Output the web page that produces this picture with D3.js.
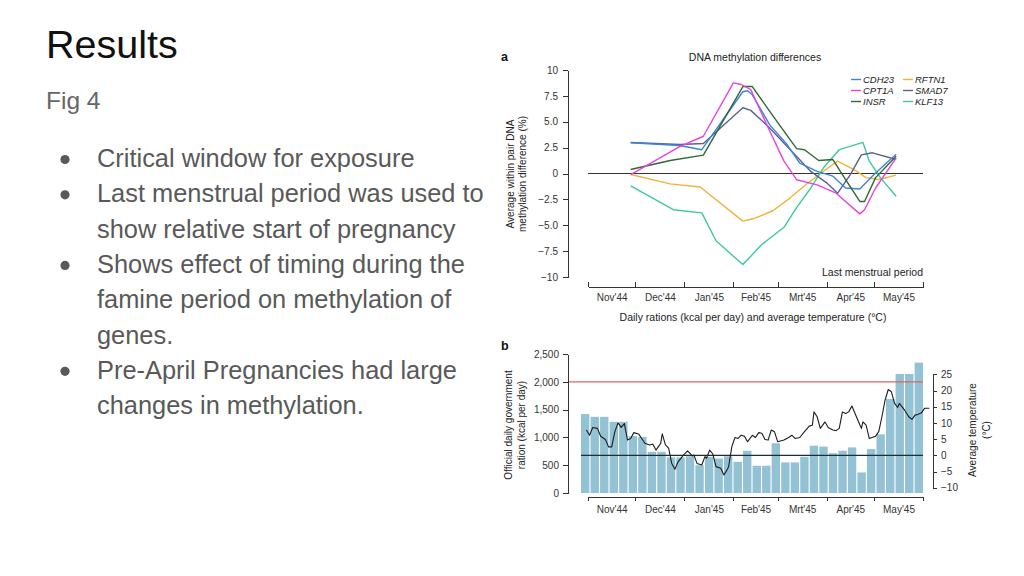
<!DOCTYPE html>
<html><head><meta charset="utf-8">
<script src="https://cdn.jsdelivr.net/npm/d3@7"></script>
<style>
html,body{margin:0;padding:0;background:#fff;}
svg{display:block;font-family:"Liberation Sans",Arial,Helvetica,sans-serif;}
.ax path,.ax line{stroke:#333;stroke-width:1;shape-rendering:crispEdges;}
.ax text{fill:#333;font-size:10px;font-family:"Liberation Sans",Arial,Helvetica,sans-serif;}
</style></head><body>
<svg id="chart" width="1024" height="576"></svg>
<script>
// ---------------- data ----------------
const slideTitle = "Results";
const slideSubtitle = "Fig 4";
const bulletLines = [
  ["Critical window for exposure"],
  ["Last menstrual period was used to", "show relative start of pregnancy"],
  ["Shows effect of timing during the", "famine period on methylation of", "genes."],
  ["Pre-April Pregnancies had large", "changes in methylation."]
];
const monthLabels = ["Nov'44","Dec'44","Jan'45","Feb'45","Mrt'45","Apr'45","May'45"];
const geneNames = ["CDH23","CPT1A","INSR","RFTN1","SMAD7","KLF13"];
const geneColors = ["#3d85d8","#e545de","#2d6a35","#f2b23a","#5b5f96","#3fc99b"];
// [days since 1 Nov 1944, methylation difference %]
const cdh23 = [[27,2.97],[58,2.7],[72,2.3],[98,7.9],[101,8.0],[104,7.6],[115,4.7],[126,2.8],[134,1.0],[145,0.2],[155,-0.26],[163,-1.4],[172,-1.5],[181,-0.1],[195,1.85]];
const cpt1a = [[27,-0.1],[58,2.6],[73,3.6],[92,8.76],[97,8.6],[103,8.1],[115,4.1],[124,1.2],[132,-0.6],[145,-1.1],[157,-1.9],[172,-3.9],[175,-3.5],[182,-1.4],[195,1.5]];
const insr  = [[27,0.39],[52,1.26],[73,1.77],[98,8.4],[104,8.4],[115,6.0],[124,4.1],[132,2.4],[137,2.3],[146,1.26],[155,1.35],[161,-0.1],[172,-2.7],[175,-2.7],[182,-0.4],[195,1.67]];
const rftn1 = [[27,-0.1],[52,-1.0],[71,-1.3],[98,-4.6],[105,-4.35],[117,-3.6],[128,-2.35],[138,-1.06],[149,0.22],[158,1.2],[168,0.4],[176,-0.4],[184,-0.58],[195,-0.16]];
const smad7 = [[27,3.0],[58,2.8],[73,2.9],[98,6.35],[103,6.1],[115,4.4],[128,2.3],[141,0.2],[151,-0.9],[158,-1.9],[166,-0.1],[173,1.8],[180,2.0],[195,1.35]];
const klf13 = [[27,-1.2],[54,-3.5],[72,-3.8],[81,-6.5],[98,-8.8],[103,-8.0],[109,-7.0],[113,-6.5],[124,-5.2],[132,-3.3],[141,-1.4],[149,0.55],[159,2.3],[174,3.0],[178,1.2],[185,-0.4],[195,-2.2]];
const methylTicks = [-10,-7.5,-5,-2.5,0,2.5,5,7.5,10];
// panel b: official ration per distribution period (kcal/day)
const rationKcal = [1420,1370,1370,1280,1280,1025,1010,740,740,640,640,660,500,650,620,660,560,760,490,490,895,550,550,650,850,835,715,760,820,370,790,1055,1690,2140,2140,2345];
const kcalTicks = [0,500,1000,1500,2000,2500];
const referenceKcal = 2000;
const tempTicks = [-10,-5,0,5,10,15,20,25];
// average temperature: day offsets since 1 Nov 1944 and °C
const tempDays = [-1,1,3,6,8,11,13,15,17,19,21,23,25,27,29,32,34,36,39,41,43,46,47,49,51,53,55,57,60,63,66,67,69,72,74,75,77,79,81,84,86,88,89,91,93,95,97,99,101,104,106,108,110,112,114,116,118,120,124,127,129,131,134,137,140,142,143,145,147,150,152,155,157,159,161,163,165,167,169,171,173,174,176,178,182,184,186,188,190,192,194,196,197,200,203,205,207,209,211,213,216];
const tempValues = [7.8,6.2,8.6,8.3,5.9,4.9,2.6,2.6,7.3,10.0,8.6,9.8,4.7,5.2,7.0,6.6,5.2,3.7,3.2,3.5,1.6,3.7,6.6,3.2,2.2,-2.5,-4.3,-2.0,-0.2,1.4,-0.2,0.1,-2.5,-3.0,-0.4,-0.9,1.6,0.4,-3.5,-4.0,-6.1,-4.5,-3.5,2.6,5.5,5.2,6.2,5.9,4.2,6.2,5.5,7.0,6.8,4.9,4.7,7.8,7.3,4.2,4.7,5.5,6.2,5.2,5.5,7.3,9.0,9.3,13.4,11.9,8.3,10.3,8.6,7.8,7.6,8.3,13.4,12.9,13.4,15.2,12.9,10.6,8.3,10.3,9.3,5.2,5.9,7.3,11.9,17.0,20.3,19.6,16.0,14.8,16.0,14.2,11.9,11.1,12.4,12.7,13.1,14.5,14.5];

// ---------------- drawing ----------------
const svg = d3.select("#chart");
svg.append("rect").attr("width",1024).attr("height",576).attr("fill","#fff");

// slide text
svg.append("text").attr("x",46).attr("y",58).attr("font-size",39.5).attr("fill","#111").text(slideTitle);
svg.append("text").attr("x",46).attr("y",109).attr("font-size",24.5).attr("fill","#666").text(slideSubtitle);
let lineY = 167;
const lineGap = 35.3;
bulletLines.forEach(group => {
  svg.append("circle").attr("cx",65).attr("cy",lineY-7.5).attr("r",4.6).attr("fill","#595959");
  group.forEach(t => {
    svg.append("text").attr("x",97).attr("y",lineY).attr("font-size",25.4).attr("fill","#595959").text(t);
    lineY += lineGap;
  });
});

const start = new Date(1944,10,1), end = new Date(1945,5,1);
const toDate = d => d3.timeDay.offset(start, d);
const x = d3.scaleTime().domain([start,end]).range([588,923]);
const monthStarts = d3.timeMonth.range(start, d3.timeDay.offset(end,1));
const monthMids = monthStarts.slice(0,-1).map((m,i)=> new Date((+m + +monthStarts[i+1])/2));

// ---- panel a ----
const ya = d3.scaleLinear().domain([-10,10]).range([277,70]);
const fmtA = v => { if (v===0) return "0"; const s = Math.abs(v)===10 ? String(Math.abs(v)) : Math.abs(v).toFixed(1); return (v<0?"\u2212":"")+s; };
svg.append("g").attr("class","ax").attr("transform","translate(568,0)")
  .call(d3.axisLeft(ya).tickValues(methylTicks).tickFormat(fmtA).tickSize(5).tickSizeOuter(0).tickPadding(5));
svg.append("g").attr("class","ax").attr("transform","translate(0,287)")
  .call(d3.axisTop(x).tickValues(monthStarts).tickFormat("").tickSize(5).tickSizeOuter(0));
svg.append("g").attr("class","ax").attr("transform","translate(0,294)")
  .call(d3.axisBottom(x).tickValues(monthMids).tickFormat((d,i)=>monthLabels[i]).tickSize(0).tickPadding(0))
  .call(g=>g.select(".domain").remove())
  .call(g=>g.selectAll("text").attr("font-size",10.5).attr("dy","0.71em"));

svg.append("line").attr("x1",x(start)).attr("x2",x(end)).attr("y1",ya(0)).attr("y2",ya(0)).attr("stroke","#333").attr("stroke-width",1);

const series = [cdh23,cpt1a,insr,rftn1,smad7,klf13];
const lineA = d3.line().x(d=>x(toDate(d[0]))).y(d=>ya(d[1]));
const drawOrder = [3,5,4,0,2,1];
drawOrder.forEach(i=>{
  svg.append("path").datum(series[i]).attr("d",lineA).attr("fill","none")
    .attr("stroke",geneColors[i]).attr("stroke-width",1.4).attr("stroke-linejoin","round");
});

svg.append("text").attr("x",755).attr("y",61).attr("text-anchor","middle").attr("font-size",10.5).attr("fill","#222").text("DNA methylation differences");
svg.append("text").attr("x",501).attr("y",61).attr("font-size",12.5).attr("font-weight","bold").attr("fill","#111").text("a");
svg.append("text").attr("x",923).attr("y",276).attr("text-anchor","end").attr("font-size",10.5).attr("fill","#222").text("Last menstrual period");
svg.append("text").attr("x",753).attr("y",321).attr("text-anchor","middle").attr("font-size",10.5).attr("fill","#222").text("Daily rations (kcal per day) and average temperature (\u00B0C)");
svg.append("text").attr("transform","translate(514,174) rotate(-90)").attr("text-anchor","middle").attr("font-size",10).attr("fill","#222").text("Average within pair DNA");
svg.append("text").attr("transform","translate(526,174) rotate(-90)").attr("text-anchor","middle").attr("font-size",10).attr("fill","#222").text("methylation difference (%)");

// legend
geneNames.forEach((n,i)=>{
  const col = Math.floor(i/3), row = i%3;
  const lx = col===0 ? 851 : 903, ly = 79.5 + row*11;
  svg.append("line").attr("x1",lx).attr("x2",lx+10).attr("y1",ly).attr("y2",ly).attr("stroke",geneColors[i]).attr("stroke-width",1.4);
  svg.append("text").attr("x",lx+12).attr("y",ly+3.5).attr("font-size",9.5).attr("font-style","italic").attr("fill","#222").text(n);
});

// ---- panel b ----
const yk = d3.scaleLinear().domain([0,2500]).range([493,354]);
const yt = d3.scaleLinear().domain([-10,25]).range([487.7,374.3]);
const xb = d3.scaleBand().domain(d3.range(rationKcal.length)).range([581,923]).paddingInner(0.12).paddingOuter(0);

svg.append("g").selectAll("rect").data(rationKcal).join("rect")
  .attr("x",(d,i)=>xb(i)).attr("width",xb.bandwidth())
  .attr("y",d=>yk(d)).attr("height",d=>yk(0)-yk(d)).attr("fill","#93c2d5");

svg.append("line").attr("x1",568).attr("x2",923).attr("y1",yk(referenceKcal)).attr("y2",yk(referenceKcal)).attr("stroke","#d9685e").attr("stroke-width",1.3);
svg.append("line").attr("x1",581).attr("x2",923).attr("y1",yt(0)).attr("y2",yt(0)).attr("stroke","#1e2d33").attr("stroke-width",1.3);

const lineT = d3.line().x((d,i)=>x(toDate(tempDays[i]))).y(d=>yt(d));
svg.append("path").datum(tempValues).attr("d",lineT).attr("fill","none").attr("stroke","#1c1c1c").attr("stroke-width",1.1).attr("stroke-linejoin","round");

svg.append("g").attr("class","ax").attr("transform","translate(568,0)")
  .call(d3.axisLeft(yk).tickValues(kcalTicks).tickFormat(d3.format(",")).tickSize(5).tickSizeOuter(0).tickPadding(4));
svg.append("g").attr("class","ax").attr("transform","translate(933,0)")
  .call(d3.axisRight(yt).tickValues(tempTicks).tickFormat(d3.format("d")).tickSize(4).tickSizeOuter(4).tickPadding(4));
svg.append("g").attr("class","ax").attr("transform","translate(0,497)")
  .call(d3.axisBottom(x).tickValues(monthStarts).tickFormat("").tickSize(4).tickSizeOuter(0));
svg.append("g").attr("class","ax").attr("transform","translate(0,506)")
  .call(d3.axisBottom(x).tickValues(monthMids).tickFormat((d,i)=>monthLabels[i]).tickSize(0).tickPadding(0))
  .call(g=>g.select(".domain").remove())
  .call(g=>g.selectAll("text").attr("font-size",10.5).attr("dy","0.71em"));

svg.append("text").attr("x",501).attr("y",350).attr("font-size",12.5).attr("font-weight","bold").attr("fill","#111").text("b");
svg.append("text").attr("transform","translate(512,425) rotate(-90)").attr("text-anchor","middle").attr("font-size",10).attr("fill","#222").text("Official daily government");
svg.append("text").attr("transform","translate(525,425) rotate(-90)").attr("text-anchor","middle").attr("font-size",10).attr("fill","#222").text("ration (kcal per day)");
svg.append("text").attr("transform","translate(976,430) rotate(-90)").attr("text-anchor","middle").attr("font-size",10).attr("fill","#222").text("Average temperature");
svg.append("text").attr("transform","translate(990,430) rotate(-90)").attr("text-anchor","middle").attr("font-size",10).attr("fill","#222").text("(\u00B0C)");
</script>
</body></html>
